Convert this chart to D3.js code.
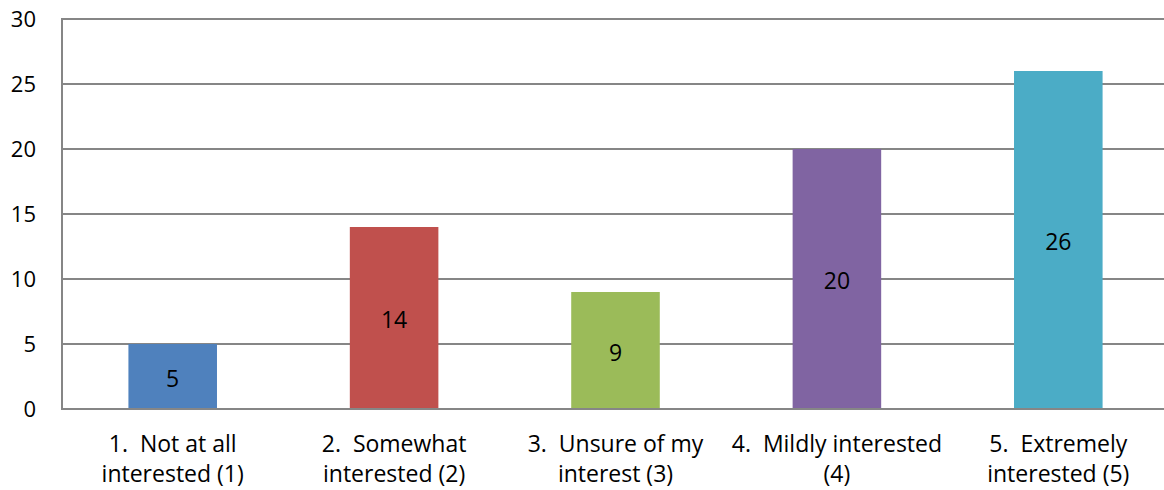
<!DOCTYPE html>
<html><head><meta charset="utf-8">
<script src="https://cdn.jsdelivr.net/npm/d3@7"></script>
<style>body{margin:0;background:#fff;} svg{display:block;font-family:"Open Sans","Noto Sans",sans-serif;} text{white-space:pre;}</style>
</head><body><div id="chart"></div>
<script>
const categories = [["1.  Not at all","interested (1)"],["2.  Somewhat","interested (2)"],["3.  Unsure of my","interest (3)"],["4.  Mildly interested","(4)"],["5.  Extremely","interested (5)"]];
const values = [5, 14, 9, 20, 26];
const colors = ["#4F81BD","#C0504D","#9BBB59","#8064A2","#4BACC6"];
const yTicks = [0,5,10,15,20,25,30];

(function(){
const W = 1164, H = 490;
const svg = d3.select("#chart").append("svg").attr("width", W).attr("height", H);
const pLeft = 62, pTop = 19, pBottom = 409, pRight = 1169;
const x = d3.scaleBand().domain(d3.range(values.length)).range([pLeft, pRight]).paddingInner(0.6).paddingOuter(0.3);
const y = d3.scaleLinear().domain([0, 30]).range([pBottom, pTop]);

svg.append("g").selectAll("line").data(yTicks).join("line")
  .attr("x1", pLeft).attr("x2", W).attr("y1", d => y(d)).attr("y2", d => y(d))
  .attr("stroke", "#868686").attr("stroke-width", 2);
svg.append("line").attr("x1", pLeft).attr("x2", pLeft).attr("y1", pTop - 1).attr("y2", pBottom + 1)
  .attr("stroke", "#868686").attr("stroke-width", 2);
svg.append("g").selectAll("text").data(yTicks).join("text")
  .attr("x", 36).attr("y", d => y(d)).attr("dy", "0.35em").attr("text-anchor", "end")
  .attr("font-size", 22).attr("fill", "#000").text(d => d);

svg.append("g").selectAll("rect").data(values).join("rect")
  .attr("x", (d,i) => x(i)).attr("width", x.bandwidth())
  .attr("y", d => y(d)).attr("height", d => y(0) - y(d) - 1)
  .attr("fill", (d,i) => colors[i]);

svg.append("g").selectAll("text").data(values).join("text")
  .attr("x", (d,i) => x(i) + x.bandwidth()/2)
  .attr("y", d => (y(d) + y(0))/2 + 2).attr("dy", "0.35em").attr("text-anchor", "middle")
  .attr("font-size", 23).attr("fill", "#000").text(d => d);

const cg = svg.append("g").selectAll("text").data(categories).join("text")
  .attr("x", (d,i) => x(i) + x.bandwidth()/2)
  .attr("text-anchor", "middle").attr("font-size", 23).attr("fill", "#000");
cg.selectAll("tspan").data(d => d).join("tspan")
  .attr("x", function(){ return this.parentNode.getAttribute("x"); })
  .attr("y", (d,j) => 452 + j*30).text(d => d);
})();
</script></body></html>
